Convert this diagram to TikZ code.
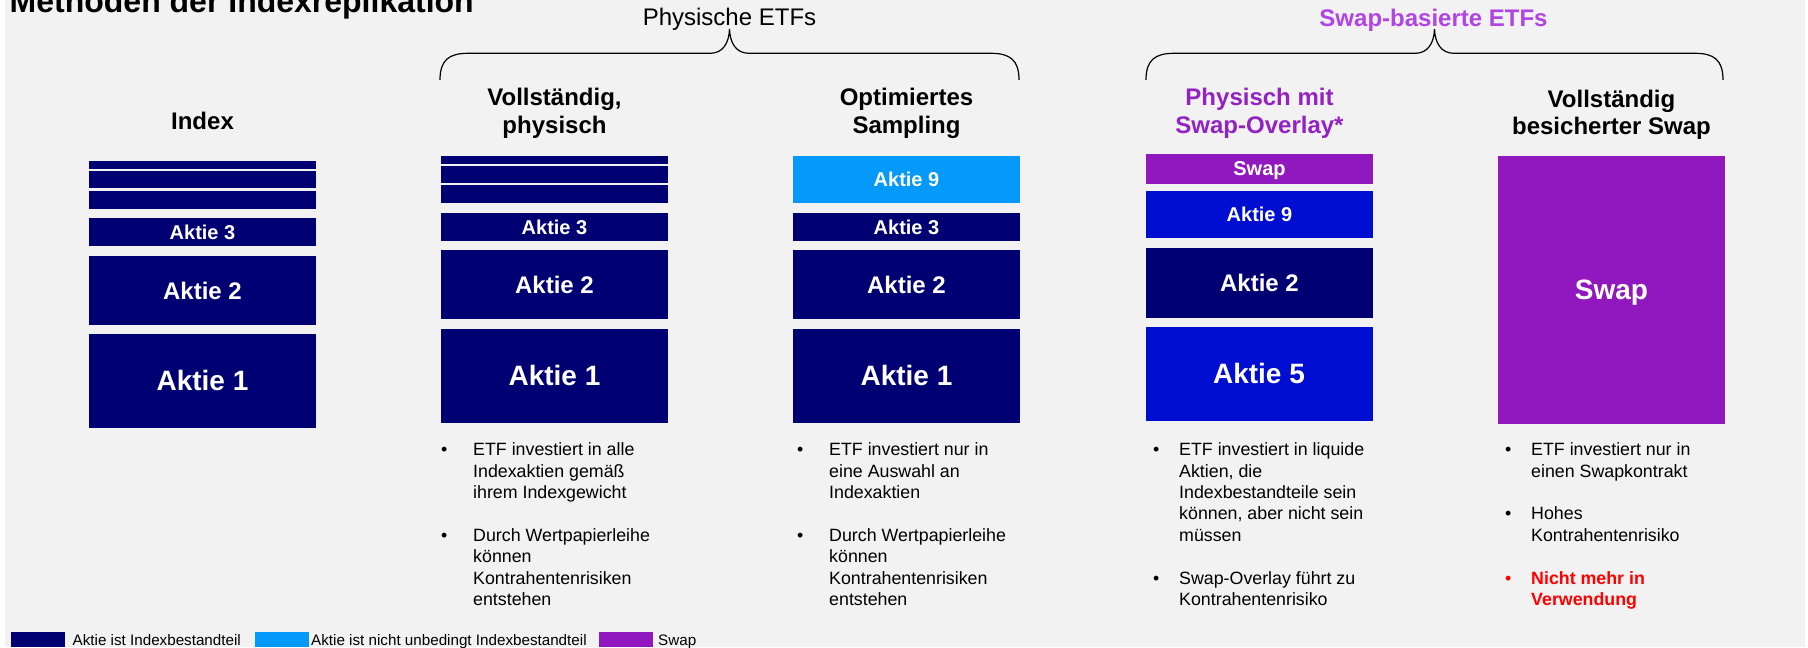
\documentclass[tikz,border=0pt]{standalone}
\usepackage{fontspec}
\setmainfont{Liberation Sans}
\definecolor{bg}{RGB}{242,242,242}
\definecolor{navy}{RGB}{0,0,115}
\definecolor{lblue}{RGB}{5,153,250}
\definecolor{mblue}{RGB}{0,14,210}
\definecolor{swapc}{RGB}{145,24,190}
\definecolor{headp}{RGB}{147,34,194}
\definecolor{lpurp}{RGB}{176,68,228}
\definecolor{redc}{RGB}{255,0,0}
\newcommand\fsz[2]{\fontsize{#1}{#2}\selectfont}
\begin{document}
\begin{tikzpicture}[x=1pt,y=-1pt,
  bx/.style={inner sep=0pt,outer sep=0pt,text=white,text depth=0pt},
  fa/.style={font=\fsz{20}{24}\bfseries},
  fb/.style={font=\fsz{24}{27.6}\bfseries},
  fc/.style={font=\fsz{28}{32}\bfseries},
  head/.style={inner sep=0pt,anchor=base,font=\fsz{24}{27.6}\bfseries},
  btxt/.style={inner sep=0pt,anchor=base west,font=\fsz{17.8}{21.4}},
  bul/.style={inner sep=0pt,anchor=base west,font=\fsz{17.8}{21.4}},
  leg/.style={inner sep=0pt,anchor=base west,font=\fsz{15.2}{18}},
  lbox/.style={inner sep=0pt,outer sep=0pt,minimum width=54,minimum height=15},
  brace/.style={draw=black,line width=1.2pt}]
\useasboundingbox (0,0) rectangle (1808,648);
\fill[white] (0,0) rectangle (1808,648);
\fill[bg] (4.5,0) rectangle (1805,647);

% title (cut at top)
\node[inner sep=0pt,anchor=base west,font=\fsz{32}{36}\bfseries] (title) at (9.5,12.7) {Methoden der Indexreplikation};

% group labels and braces
\node[inner sep=0pt,anchor=base,font=\fsz{24}{27.6}] (phys) at (729.5,25.7) {Physische ETFs};
\node[inner sep=0pt,anchor=base,font=\fsz{24}{27.6}\bfseries,text=lpurp] (swapb) at (1433.5,26) {Swap-basierte ETFs};

\coordinate (b1l) at (440,80); \coordinate (b1c) at (729.5,29); \coordinate (b1r) at (1019,80);
\draw[brace] (b1l) .. controls (440,60) and (449,53.3) .. (468,53.3) -- (710,53.3)
  .. controls (723,53.3) and (729,43) .. (b1c)
  .. controls (730,43) and (736,53.3) .. (749,53.3) -- (991,53.3)
  .. controls (1010,53.3) and (1019,60) .. (b1r);
\coordinate (b2l) at (1146,80); \coordinate (b2c) at (1434.5,29); \coordinate (b2r) at (1723,80);
\draw[brace] (b2l) .. controls (1146,60) and (1155,53.3) .. (1174,53.3) -- (1415,53.3)
  .. controls (1428,53.3) and (1434,43) .. (b2c)
  .. controls (1435,43) and (1441,53.3) .. (1454,53.3) -- (1695,53.3)
  .. controls (1714,53.3) and (1723,60) .. (b2r);

% headings
\node[head] (hidx) at (202.5,129) {Index};
\node[head] (hvoll) at (554.5,105.5) {\begin{tabular}[t]{@{}c@{}}Vollständig,\\physisch\end{tabular}};
\node[head] (hopt) at (906.5,105.5) {\begin{tabular}[t]{@{}c@{}}Optimiertes\\Sampling\end{tabular}};
\node[head,text=headp] (hphy) at (1259.5,105.5) {\begin{tabular}[t]{@{}c@{}}Physisch mit\\Swap-Overlay*\end{tabular}};
\node[head] (hbes) at (1611.5,107) {\begin{tabular}[t]{@{}c@{}}Vollständig\\besicherter Swap\end{tabular}};

% Index column
\node[bx,fill=navy,minimum width=227,minimum height=8] (ib1) at (202.5,165) {};
\node[bx,fill=navy,minimum width=227,minimum height=17] (ib2) at (202.5,179.5) {};
\node[bx,fill=navy,minimum width=227,minimum height=17.7] (ib3) at (202.5,199.85) {};
\node[bx,fa,fill=navy,minimum width=227,minimum height=27.7] (ia3) at (202.5,231.85) {Aktie 3};
\node[bx,fb,fill=navy,minimum width=227,minimum height=68.7] (ia2) at (202.5,290.35) {Aktie 2};
\node[bx,fc,fill=navy,minimum width=227,minimum height=93.7] (ia1) at (202.5,380.85) {Aktie 1};

% Vollstaendig column
\node[bx,fill=navy,minimum width=227,minimum height=8] (vb1) at (554.5,160) {};
\node[bx,fill=navy,minimum width=227,minimum height=17] (vb2) at (554.5,174.5) {};
\node[bx,fill=navy,minimum width=227,minimum height=17.7] (vb3) at (554.5,193.85) {};
\node[bx,fa,fill=navy,minimum width=227,minimum height=27.7] (va3) at (554.5,226.85) {Aktie 3};
\node[bx,fb,fill=navy,minimum width=227,minimum height=68.7] (va2) at (554.5,284.35) {Aktie 2};
\node[bx,fc,fill=navy,minimum width=227,minimum height=93.7] (va1) at (554.5,375.85) {Aktie 1};

% Optimiertes column
\node[bx,fa,fill=lblue,minimum width=227,minimum height=46.7] (oa9) at (906.5,179.35) {Aktie 9};
\node[bx,fa,fill=navy,minimum width=227,minimum height=27.7] (oa3) at (906.5,226.85) {Aktie 3};
\node[bx,fb,fill=navy,minimum width=227,minimum height=68.7] (oa2) at (906.5,284.35) {Aktie 2};
\node[bx,fc,fill=navy,minimum width=227,minimum height=93.7] (oa1) at (906.5,375.85) {Aktie 1};

% Physisch mit Swap-Overlay column
\node[bx,fa,fill=swapc,minimum width=227,minimum height=29.7] (psw) at (1259.5,168.85) {Swap};
\node[bx,fa,fill=mblue,minimum width=227,minimum height=46.7] (pa9) at (1259.5,214.35) {Aktie 9};
\node[bx,fb,fill=navy,minimum width=227,minimum height=69.7] (pa2) at (1259.5,282.85) {Aktie 2};
\node[bx,fc,fill=mblue,minimum width=227,minimum height=93.7] (pa5) at (1259,373.85) {Aktie 5};

% Besicherter Swap column
\node[bx,fc,fill=swapc,minimum width=227,minimum height=267.7] (bsw) at (1611.5,289.85) {Swap};

% bullets: Vollstaendig
\node[bul] (vd1) at (441,455.7) {•};
\node[btxt] (vt1) at (473,455.7) {\begin{tabular}[t]{@{}l@{}}ETF investiert in alle\\Indexaktien gemäß\\ihrem Indexgewicht\end{tabular}};
\node[bul] (vd2) at (441,541.3) {•};
\node[btxt] (vt2) at (473,541.3) {\begin{tabular}[t]{@{}l@{}}Durch Wertpapierleihe\\können\\Kontrahentenrisiken\\entstehen\end{tabular}};

% bullets: Optimiertes
\node[bul] (od1) at (797,455.7) {•};
\node[btxt] (ot1) at (829,455.7) {\begin{tabular}[t]{@{}l@{}}ETF investiert nur in\\eine Auswahl an\\Indexaktien\end{tabular}};
\node[bul] (od2) at (797,541.3) {•};
\node[btxt] (ot2) at (829,541.3) {\begin{tabular}[t]{@{}l@{}}Durch Wertpapierleihe\\können\\Kontrahentenrisiken\\entstehen\end{tabular}};

% bullets: Physisch
\node[bul] (pd1) at (1153,455.7) {•};
\node[btxt] (pt1) at (1179,455.7) {\begin{tabular}[t]{@{}l@{}}ETF investiert in liquide\\Aktien, die\\Indexbestandteile sein\\können, aber nicht sein\\müssen\end{tabular}};
\node[bul] (pd2) at (1153,584.1) {•};
\node[btxt] (pt2) at (1179,584.1) {\begin{tabular}[t]{@{}l@{}}Swap-Overlay führt zu\\Kontrahentenrisiko\end{tabular}};

% bullets: Besicherter Swap
\node[bul] (bd1) at (1505,455.7) {•};
\node[btxt] (bt1) at (1531,455.7) {\begin{tabular}[t]{@{}l@{}}ETF investiert nur in\\einen Swapkontrakt\end{tabular}};
\node[bul] (bd2) at (1505,519.9) {•};
\node[btxt] (bt2) at (1531,519.9) {\begin{tabular}[t]{@{}l@{}}Hohes\\Kontrahentenrisiko\end{tabular}};
\node[bul,text=redc] (bd3) at (1505,584.1) {•};
\node[btxt,text=redc,font=\fsz{17.8}{21.4}\bfseries] (bt3) at (1531,584.1) {\begin{tabular}[t]{@{}l@{}}Nicht mehr in\\Verwendung\end{tabular}};

% legend
\node[lbox,fill=navy] (l1) at (38,639.5) {};
\node[leg] (lt1) at (72.5,645.6) {Aktie ist Indexbestandteil};
\node[lbox,fill=lblue] (l2) at (282.2,639.5) {};
\node[leg] (lt2) at (311,645.6) {Aktie ist nicht unbedingt Indexbestandteil};
\node[lbox,fill=swapc] (l3) at (626,639.5) {};
\node[leg] (lt3) at (658,645.6) {Swap};
\end{tikzpicture}
\end{document}
